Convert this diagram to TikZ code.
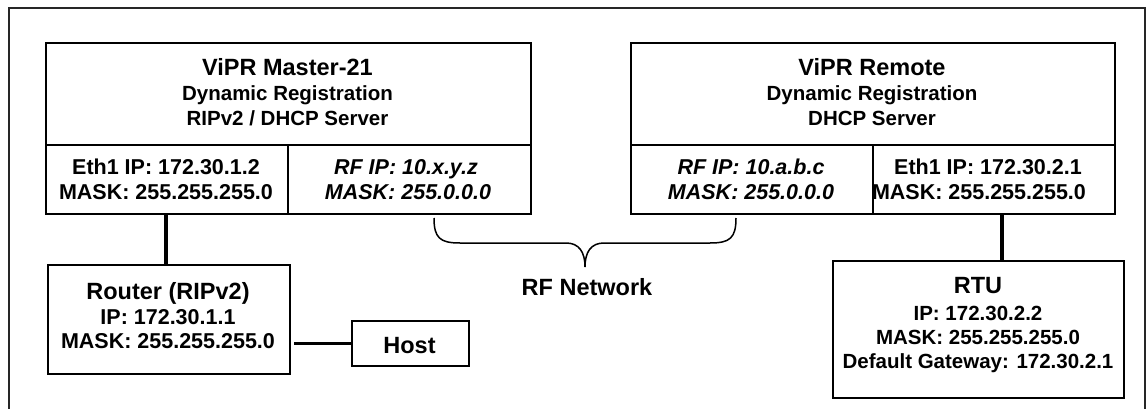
\documentclass[tikz,border=0pt]{standalone}
\usepackage{fontspec}
\setmainfont{Liberation Sans}
\begin{document}
\begin{tikzpicture}[x=1pt,y=-1pt,
  cell/.style={draw=black,line width=2pt,inner sep=0pt,anchor=north west},
  link/.style={draw=black,line width=3.2pt},
  frame/.style={draw=black!85,line width=1.5pt},
  brace/.style={draw=black,line width=1.5pt},
  ttl/.style={font=\bfseries\fontsize{23.5}{28}\selectfont,anchor=base,inner sep=0pt},
  sub/.style={font=\bfseries\fontsize{20.5}{24}\selectfont,anchor=base,inner sep=0pt},
  ln/.style={font=\bfseries\fontsize{21.5}{26}\selectfont,anchor=base,inner sep=0pt},
  lni/.style={font=\bfseries\itshape\fontsize{21.5}{26}\selectfont,anchor=base,inner sep=0pt},
  rl/.style={font=\bfseries\fontsize{20.5}{24}\selectfont,anchor=base,inner sep=0pt}
]
\useasboundingbox (0,0) rectangle (1146,409);
% outer frame (open at the bottom)
\draw[frame] (9,409) -- (9,8) -- (1145,8) -- (1145,409);

% ViPR Master-21
\node[cell,minimum width=485pt,minimum height=102pt] (mtop) at (45,42) {};
\node[cell,minimum width=242pt,minimum height=69pt] (meth) at (45,144) {};
\node[cell,minimum width=243pt,minimum height=69pt] (mrf) at (287,144) {};
\node[ttl] (mt1) at (287.5,76) {ViPR Master-21};
\node[sub] (mt2) at (287.5,101) {Dynamic Registration};
\node[sub] (mt3) at (287.5,126) {RIPv2 / DHCP Server};
\node[ln] (me1) at (166,175) {Eth1 IP: 172.30.1.2};
\node[ln] (me2) at (166,200) {MASK: 255.255.255.0};
\node[lni] (mr1) at (406,175) {RF IP: 10.x.y.z};
\node[lni] (mr2) at (408,200) {MASK: 255.0.0.0};

% ViPR Remote
\node[cell,minimum width=484pt,minimum height=102pt] (rtop) at (630,42) {};
\node[cell,minimum width=242pt,minimum height=69pt] (rrf) at (630,144) {};
\node[cell,minimum width=242pt,minimum height=69pt] (reth) at (872,144) {};
\node[ttl] (rt1) at (872,76) {ViPR Remote};
\node[sub] (rt2) at (872,101) {Dynamic Registration};
\node[sub] (rt3) at (872,126) {DHCP Server};
\node[lni] (rr1) at (751,175) {RF IP: 10.a.b.c};
\node[lni] (rr2) at (751,200) {MASK: 255.0.0.0};
\node[ln] (re1) at (988,175) {Eth1 IP: 172.30.2.1};
\node[ln] (re2) at (979,200) {MASK: 255.255.255.0};

% Router
\node[cell,minimum width=242pt,minimum height=109pt] (router) at (47,264) {};
\node[ttl] (ro1) at (168,299) {Router (RIPv2)};
\node[ln] (ro2) at (168,324) {IP: 172.30.1.1};
\node[ln] (ro3) at (168,348) {MASK: 255.255.255.0};

% Host
\node[cell,minimum width=117pt,minimum height=45pt] (host) at (351,320) {};
\node[ttl] (ho1) at (409.5,353) {Host};

% RTU
\node[cell,minimum width=291pt,minimum height=137pt] (rtu) at (832,260) {};
\node[ttl] (rtu1) at (978,293) {RTU};
\node[rl] (rtu2) at (978,320) {IP: 172.30.2.2};
\node[rl] (rtu3) at (978,344) {MASK: 255.255.255.0};
\node[rl] (rtu4) at (978,368) {Default Gateway: 172.30.2.1};

% connectors
\draw[link] (meth.south -| mt1.south) ++(-121.5,0) coordinate (mA) -- (mA |- router.north);
\coordinate (rA) at (1002,213);
\draw[link] (rA) -- (rA |- rtu.north);
\draw[link] (router.east |- host.west) ++(3,0) -- (host.west);

% RF network brace
\coordinate (bL) at (434,218);
\coordinate (bR) at (736,218);
\coordinate (bT) at (585,267);
\draw[brace] (bL) .. controls (434,238) and (440,243) .. (460,243) -- (566,243)
  .. controls (579,243) and (585,252) .. (bT)
  .. controls (585,252) and (591,243) .. (604,243) -- (710,243)
  .. controls (730,243) and (736,238) .. (bR);
\node[ttl] (rfn) at (587,295) {RF Network};
\end{tikzpicture}
\end{document}
